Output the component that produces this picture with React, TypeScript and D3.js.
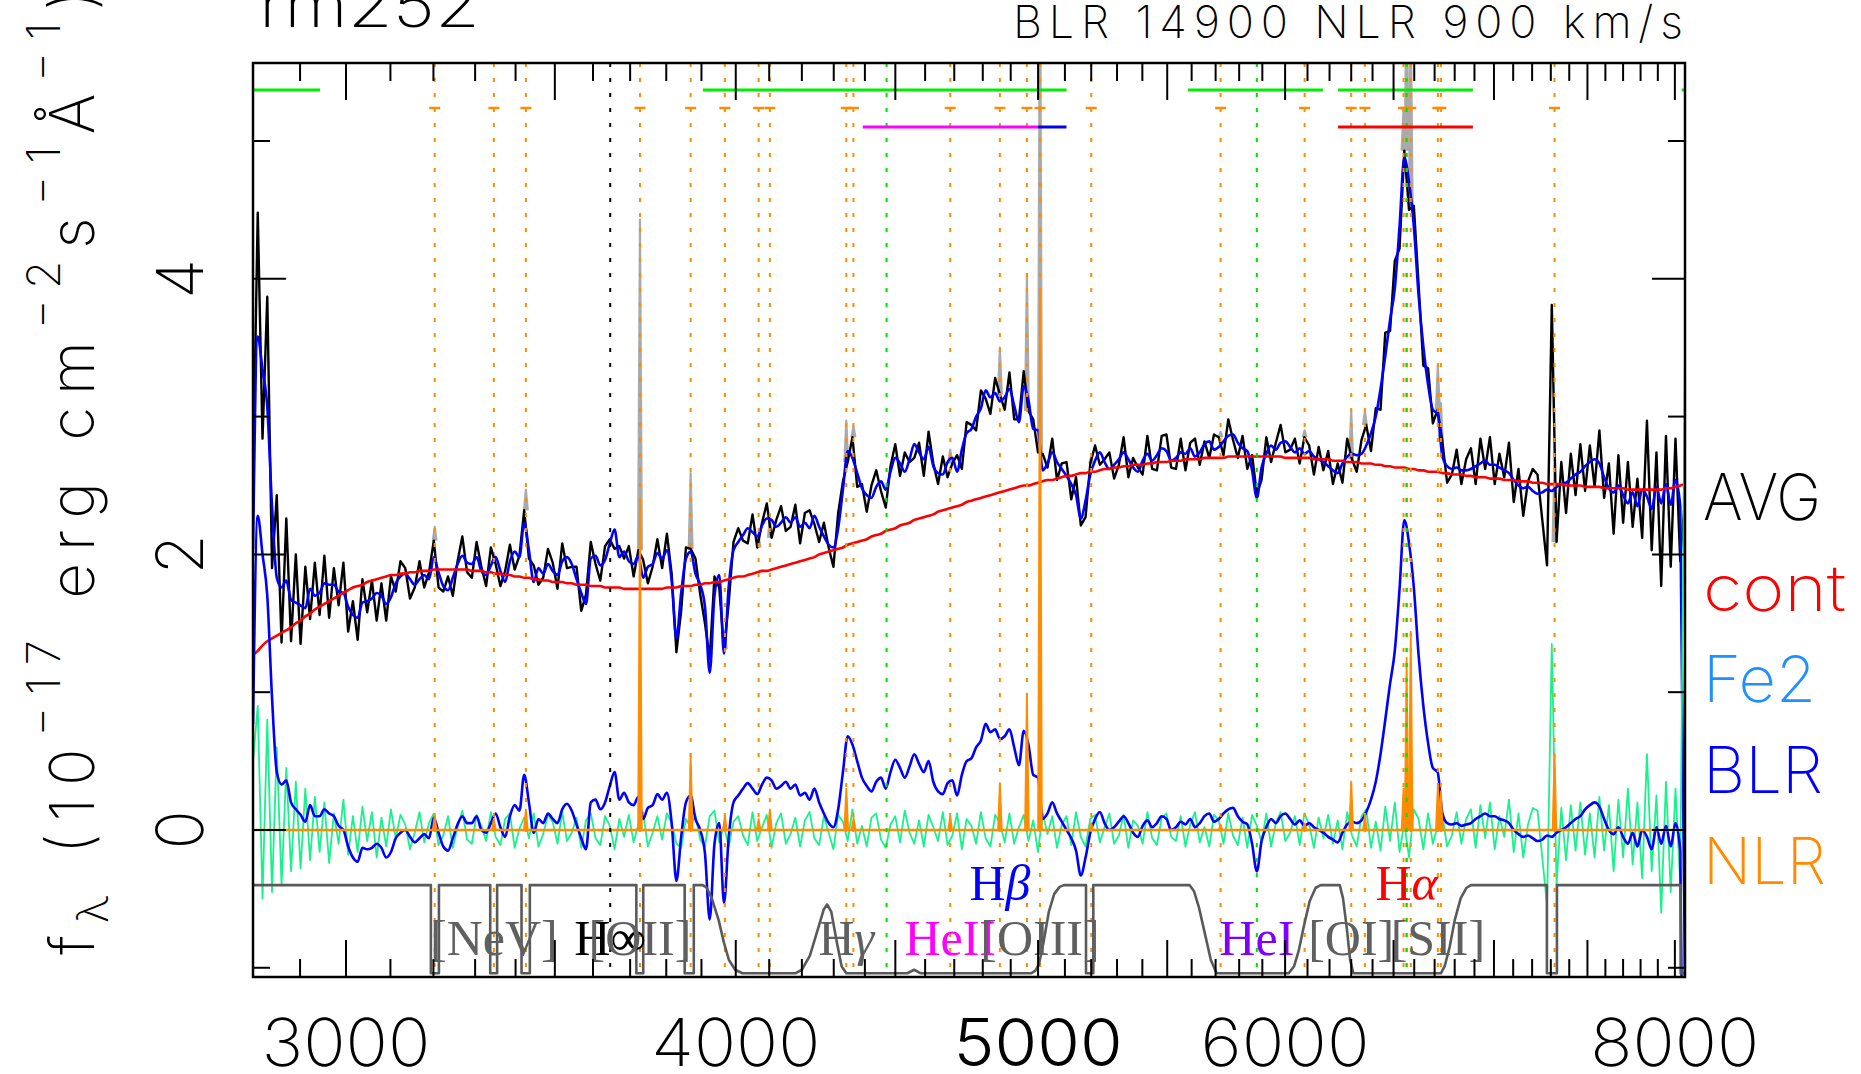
import React from 'react';
import * as d3 from 'd3';

const W = 1861;
const H = 1074;
const left = 253;
const right = 1685;
const top = 63;
const bottom = 977;

// spectrum pixel grid (log-uniform)
const lamStart = 2801;
const lamEnd = 8060;
const nPix = 302;

// continuum model (red)
const cont = [
  1.27, 1.30, 1.34, 1.37, 1.39, 1.41, 1.43, 1.45, 1.47, 1.50,
  1.52, 1.55, 1.57, 1.60, 1.62, 1.64, 1.66, 1.68, 1.70, 1.72,
  1.74, 1.76, 1.77, 1.78, 1.80, 1.81, 1.82, 1.83, 1.84, 1.85,
  1.85, 1.86, 1.86, 1.87, 1.87, 1.88, 1.88, 1.88, 1.89, 1.89,
  1.89, 1.89, 1.89, 1.89, 1.89, 1.89, 1.88, 1.88, 1.88, 1.87,
  1.87, 1.86, 1.86, 1.85, 1.85, 1.84, 1.84, 1.83, 1.83, 1.82,
  1.82, 1.81, 1.81, 1.80, 1.80, 1.80, 1.79, 1.79, 1.78, 1.78,
  1.78, 1.77, 1.77, 1.77, 1.76, 1.76, 1.76, 1.76, 1.75, 1.75,
  1.75, 1.75, 1.75, 1.75, 1.75, 1.75, 1.75, 1.76, 1.76, 1.76,
  1.77, 1.77, 1.77, 1.78, 1.78, 1.79, 1.79, 1.80, 1.80, 1.81,
  1.82, 1.83, 1.84, 1.84, 1.85, 1.86, 1.87, 1.88, 1.88, 1.89,
  1.90, 1.91, 1.92, 1.93, 1.94, 1.95, 1.96, 1.97, 1.98, 2.00,
  2.01, 2.02, 2.03, 2.04, 2.05, 2.07, 2.08, 2.09, 2.10, 2.11,
  2.13, 2.14, 2.15, 2.17, 2.18, 2.19, 2.21, 2.22, 2.23, 2.25,
  2.26, 2.27, 2.28, 2.29, 2.31, 2.32, 2.33, 2.34, 2.35, 2.36,
  2.38, 2.39, 2.40, 2.41, 2.42, 2.43, 2.44, 2.45, 2.46, 2.47,
  2.48, 2.49, 2.50, 2.50, 2.51, 2.52, 2.53, 2.54, 2.54, 2.55,
  2.56, 2.57, 2.57, 2.58, 2.59, 2.59, 2.60, 2.60, 2.61, 2.62,
  2.62, 2.63, 2.63, 2.64, 2.64, 2.65, 2.65, 2.65, 2.66, 2.66,
  2.67, 2.67, 2.67, 2.68, 2.68, 2.68, 2.69, 2.69, 2.69, 2.69,
  2.70, 2.70, 2.70, 2.70, 2.70, 2.71, 2.71, 2.71, 2.71, 2.71,
  2.71, 2.71, 2.71, 2.71, 2.71, 2.71, 2.71, 2.70, 2.70, 2.70,
  2.70, 2.70, 2.70, 2.69, 2.69, 2.69, 2.69, 2.68, 2.68, 2.68,
  2.67, 2.67, 2.67, 2.66, 2.66, 2.66, 2.65, 2.65, 2.64, 2.64,
  2.63, 2.63, 2.63, 2.62, 2.62, 2.61, 2.61, 2.60, 2.60, 2.60,
  2.59, 2.59, 2.58, 2.58, 2.58, 2.57, 2.57, 2.56, 2.56, 2.56,
  2.55, 2.55, 2.55, 2.54, 2.54, 2.54, 2.53, 2.53, 2.53, 2.52,
  2.52, 2.52, 2.51, 2.51, 2.51, 2.51, 2.50, 2.50, 2.50, 2.50,
  2.49, 2.49, 2.49, 2.49, 2.48, 2.48, 2.48, 2.48, 2.48, 2.47,
  2.47, 2.47, 2.47, 2.47, 2.47, 2.47, 2.47, 2.48, 2.48, 2.49,
  2.50, 2.51,
];

// broad-line component (lower blue)
const blr = [
  0.77, 2.28, 2.0, 1.7, 0.96, 0.42, 0.33, 0.36, 0.2, 0.15,
  0.11, 0.06, 0.18, 0.1, 0.1, 0.15, 0.12, 0.1, 0.03, 0.0,
  -0.12, -0.2, -0.23, -0.13, -0.14, -0.13, -0.1, -0.13, -0.2, -0.16,
  -0.06, -0.02, 0.0, -0.05, -0.09, -0.06, -0.03, -0.06, 0.09, -0.02,
  -0.12, -0.15, -0.06, 0.04, 0.1, 0.05, 0.05, 0.1, 0.0, -0.02,
  0.05, 0.12, 0.02, -0.05, 0.1, 0.18, 0.14, 0.4, 0.2, -0.02,
  0.08, 0.05, 0.12, 0.08, 0.05, 0.15, 0.19, 0.14, 0.04, -0.06,
  -0.14, 0.2, 0.22, 0.15, 0.2, 0.32, 0.42, 0.22, 0.27, 0.2,
  0.18, 0.24, 0.08, 0.16, 0.18, 0.26, 0.22, 0.27, 0.05, -0.37,
  -0.05, 0.2, 0.25, 0.08, 0.0, -0.17, -0.65, -0.1, 0.05, -0.53,
  -0.05, 0.2, 0.25, 0.3, 0.34, 0.3, 0.26, 0.33, 0.38, 0.36,
  0.3, 0.32, 0.35, 0.3, 0.33, 0.25, 0.27, 0.22, 0.3, 0.2,
  0.12, 0.05, 0.02, 0.15, 0.42, 0.68, 0.62, 0.5, 0.38, 0.32,
  0.28, 0.35, 0.38, 0.3, 0.42, 0.51, 0.45, 0.38, 0.46, 0.55,
  0.48, 0.42, 0.5, 0.35, 0.28, 0.26, 0.34, 0.36, 0.25, 0.4,
  0.5, 0.52, 0.6, 0.65, 0.77, 0.71, 0.73, 0.66, 0.68, 0.73,
  0.6, 0.47, 0.72, 0.62, 0.4, 0.38, 0.08, 0.12, 0.2, 0.12,
  0.06, 0.0, -0.06, -0.15, -0.33, -0.2, -0.02, 0.08, 0.13, 0.05,
  0.0, 0.02, 0.06, 0.1, 0.05, -0.02, -0.05, 0.03, 0.07, 0.02,
  0.05, 0.1, 0.08, 0.0, 0.02, 0.06, 0.04, 0.08, 0.02, 0.05,
  0.1, 0.12, 0.06, 0.08, 0.12, 0.15, 0.16, 0.1, 0.06, 0.04,
  -0.1, -0.3, -0.08, 0.02, 0.08, 0.05, 0.1, 0.12, 0.08, 0.04,
  0.07, 0.03, 0.05, 0.02, 0.0, -0.02, -0.05, -0.07, -0.09, -0.02,
  0.04, 0.06, 0.05, 0.07, 0.13, 0.22, 0.35, 0.55, 0.8, 1.06,
  1.3, 1.75, 2.25, 2.08, 1.76, 1.27, 0.9, 0.63, 0.45, 0.42,
  0.12, 0.05, 0.04, 0.05, 0.03, 0.04, 0.05, 0.08, 0.1, 0.12,
  0.1, 0.1, 0.08, 0.07, 0.05, 0.0, -0.03, -0.05, -0.04, -0.06,
  -0.08, -0.07, -0.04, -0.05, -0.02, 0.0, 0.02, 0.05, 0.08, 0.1,
  0.15, 0.18, 0.2, 0.17, 0.08, 0.0, -0.03, 0.02, -0.05, -0.1,
  -0.02, -0.12, 0.0, -0.05, -0.14, 0.02, -0.1, 0.03, -0.12, 0.05,
  -0.15, -3.6,
];

// fit residual (green); AVG = cont + blr + resid
const resid = [
  0.5, 0.9, -0.5, 0.8, -0.45, 0.6, -0.4, 0.45, -0.3, 0.35,
  -0.28, 0.3, -0.22, 0.24, -0.16, 0.2, -0.24, 0.12, -0.1, 0.22,
  -0.18, 0.1, -0.16, 0.17, -0.08, 0.13, -0.2, 0.09, -0.12, 0.15,
  -0.06, 0.11, 0.04, -0.14, -0.02, 0.13, -0.09, 0.05, 0.12, -0.11,
  -0.04, 0.1, -0.13, 0.02, 0.14, -0.07, -0.1, 0.11, 0.03, -0.08,
  0.13, -0.05, -0.11, 0.08, 0.12, -0.13, 0.01, 0.09, -0.06, 0.12,
  -0.12, -0.03, 0.11, 0.06, -0.1, 0.13, -0.08, -0.02, 0.09, -0.13,
  0.07, 0.12, -0.06, -0.11, 0.1, 0.03, -0.14, 0.08, -0.05, 0.11,
  -0.09, 0.04, 0.13, -0.12, -0.02, 0.1, -0.07, 0.12, 0.05, -0.1,
  -0.13, 0.08, 0.02, 0.11, -0.07, -0.12, 0.1, 0.14, -0.09, 0.03,
  -0.12, 0.06, 0.1, -0.04, -0.11, 0.13, -0.08, 0.02, 0.11, -0.13,
  0.05, 0.12, -0.1, -0.03, 0.09, -0.12, 0.07, 0.13, -0.06, -0.11,
  0.1, -0.02, -0.14, 0.11, 0.06, -0.08, 0.15, -0.1, 0.03, -0.12,
  0.09, 0.12, -0.07, -0.13, 0.04, 0.1, -0.09, 0.14, -0.02, -0.1,
  0.07, -0.12, 0.11, 0.02, -0.08, 0.13, -0.11, -0.04, 0.12, -0.14,
  0.08, 0.03, -0.1, 0.13, -0.06, -0.12, 0.11, 0.05, -0.09, 0.12,
  -0.1, 0.02, 0.11, -0.08, 0.07, -0.16, 0.12, -0.03, 0.1, -0.13,
  0.04, 0.1, -0.11, 0.13, -0.05, -0.12, 0.08, 0.11, -0.09, 0.02,
  0.12, -0.1, -0.04, 0.11, -0.13, 0.07, 0.03, -0.1, 0.13, -0.06,
  -0.11, 0.09, 0.12, -0.05, -0.08, 0.1, -0.12, 0.04, 0.13, -0.09,
  0.02, -0.12, 0.11, 0.07, -0.1, 0.12, -0.04, -0.11, 0.09, -0.13,
  0.11, 0.03, -0.09, 0.12, -0.12, 0.05, 0.13, -0.08, -0.02, 0.1,
  -0.11, 0.12, 0.04, -0.13, 0.09, -0.06, 0.11, -0.1, 0.07, -0.14,
  0.13, -0.04, -0.12, 0.1, 0.15, -0.13, 0.06, -0.15, 0.17, -0.08,
  0.2, -0.16, 0.05, -0.2, 0.15, 0.08, -0.14, 0.12, -0.1, 0.03,
  0.11, -0.12, -0.04, 0.13, -0.1, 0.08, 0.15, -0.13, 0.18, -0.06,
  0.2, -0.14, 0.1, -0.05, 0.22, -0.16, 0.12, -0.2, 0.04, 0.16,
  0.14, -0.2, -0.55, 1.35, -0.4, 0.16, -0.22, 0.18, -0.15, 0.2,
  -0.18, 0.12, -0.2, 0.24, -0.15, 0.18, -0.3, 0.22, -0.2, 0.3,
  -0.25, 0.2, -0.35, 0.55, -0.3, 0.25, -0.6, 0.35, -0.45, 0.3,
  -0.4, 3.5,
];

// narrow lines (NLR)
const nlrWave = [3203, 3346, 3426, 3727, 3869, 3968, 4068, 4102, 4340, 4363, 4686, 4861, 4959, 5007, 5200, 5721, 6087, 6300, 6364, 6548, 6563, 6583, 6716, 6731, 7320];
const nlrPeak = [0.1, 0.08, 0.15, 2.4, 0.55, 0.1, 0.08, 0.15, 0.3, 0.08, 0.1, 0.34, 0.99, 3.9, 0.05, 0.04, 0.05, 0.35, 0.1, 0.3, 1.25, 1.44, 0.32, 0.28, 0.55];
const heLines = [4471, 5876, 6563];
const balmerLimit = 3646;

// fitting windows along the top
const winStart = [2801, 3904, 5585, 6239, 8040];
const winEnd = [2943, 5106, 6170, 6892, 8060];
const bandStart = [4393, 5000, 6239];
const bandEnd = [5000, 5106, 6892];
const bandColor = ['#ff00ff', '#0000ff', '#ff0000'];

// mask weight curve at bottom (1 = continuum window)
const maskWave = [2801, 3194, 3194, 3213, 3213, 3337, 3337, 3354, 3354, 3415, 3415, 3436, 3436, 3717, 3717, 3736, 3736, 3852, 3852, 3878, 3878, 3904, 3915, 3930, 3950, 3965, 3980, 3998, 4020, 4180, 4200, 4225, 4250, 4268, 4279, 4292, 4310, 4325, 4340, 4540, 4563, 4585, 4975, 4990, 5003, 5020, 5040, 5060, 5080, 5096, 5180, 5180, 5208, 5208, 5591, 5610, 5630, 5655, 5680, 5704, 6016, 6040, 6060, 6085, 6110, 6137, 6160, 6247, 6262, 6280, 6295, 6310, 6731, 6750, 6775, 6800, 6830, 6860, 6882, 7279, 7279, 7333, 7333, 8034, 8034, 8060];
const maskLevel = [1, 1, 0, 0, 1, 1, 0, 0, 1, 1, 0, 0, 1, 1, 0, 0, 1, 1, 0, 0, 1, 1, 0.97, 0.85, 0.6, 0.35, 0.15, 0.04, 0, 0, 0.04, 0.2, 0.5, 0.72, 0.78, 0.7, 0.35, 0.08, 0, 0, 0.04, 0, 0, 0.03, 0.1, 0.35, 0.7, 0.9, 0.98, 1, 1, 0, 0, 1, 1, 0.93, 0.75, 0.45, 0.15, 0, 0, 0.08, 0.25, 0.55, 0.82, 0.97, 1, 1, 0.85, 0.5, 0.15, 0, 0, 0.08, 0.3, 0.6, 0.85, 0.97, 1, 1, 0, 0, 1, 1, 0, 0];

const labelText = ['[NeV]', 'H∞', '[OII]', 'Hγ', 'HeII', '[OIII]', 'Hβ', 'HeI', '[OI]', '[SII]', 'Hα'];
const labelWave = [3346, 3646, 3727, 4340, 4686, 5007, 4861, 5876, 6300, 6716, 6563];
const labelColor = ['#606060', '#000000', '#606060', '#606060', '#ff00ff', '#606060', '#0000ff', '#8000ff', '#606060', '#606060', '#ff0000'];
const labelRaised = [0, 0, 0, 0, 0, 0, 1, 0, 0, 0, 1];

const xTickLabels = [3000, 4000, 5000, 6000, 8000];
const yTickLabels = [0, 2, 4];

const legendNames = ['AVG', 'cont', 'Fe2', 'BLR', 'NLR'];
const legendColors = ['#000000', '#ff0000', '#1e90ff', '#0000ff', '#ff8c00'];
const legendWidths = [118, 143, 113, 120, 123];

const sans = 'Inter, "DejaVu Sans", sans-serif';
const serif = '"Liberation Serif", "DejaVu Serif", serif';
const ORANGE = '#ff8c00';
const GREEN = '#19f28c';

const x = d3.scaleLog().domain([lamStart, lamEnd]).range([left, right]);
const y = d3.scaleLinear().domain([-1.067, 5.566]).range([bottom, top]);

const dLn = Math.log(lamEnd / lamStart) / (nPix - 1);
const wave = d3.range(nPix).map(i => lamStart * Math.exp(i * dLn));
const model = cont.map((c, i) => c + blr[i]);
const avg = model.map((m, i) => m + resid[i]);

type P = [number, number];
const straight = d3.line<P>().x(d => x(d[0])).y(d => y(d[1]));
const smooth = d3.line<P>().x(d => x(d[0])).y(d => y(d[1])).curve(d3.curveMonotoneX);

const pts = (vals: number[]): P[] => wave.map((w, i) => [w, vals[i]] as P);
const half = 0.0014;

function spike(w: number, base: number, peak: number): string {
  return straight([[w * (1 - half), base], [w, base + peak], [w * (1 + half), base]]) as string;
}

function Label({ t }: { t: string }) {
  return (
    <>
      {Array.from(t).map((ch, k) => (
        <tspan key={k} fontStyle={/[αβγ]/.test(ch) ? 'italic' : 'normal'}>{ch}</tspan>
      ))}
    </>
  );
}

export default function App() {
  const bisect = d3.bisector((d: number) => d).center;
  const xTicks = d3.range(2900, 8001, 100);
  const yTicks = d3.range(-1, 6);
  const maskPts: P[] = maskWave.map((w, i) => [w, -1.04 + 0.64 * maskLevel[i]] as P);

  return (
    <svg width={W} height={H} style={{ position: 'absolute', left: 0, top: 0, background: '#fff' }}>
      <defs>
        <clipPath id="plotClip">
          <rect x={left} y={top} width={right - left} height={bottom - top} />
        </clipPath>
      </defs>

      <g clipPath="url(#plotClip)" fill="none" strokeLinejoin="round">
        {nlrWave.map((w, k) => {
          const base = avg[bisect(wave, w)];
          return <path key={'g' + k} d={spike(w, base, nlrPeak[k])} stroke="#aaaaaa" fill="#aaaaaa" strokeWidth={2.2} />;
        })}
        <path d={straight(pts(avg)) as string} stroke="#000" strokeWidth={2.4} />
        <path d={smooth(pts(model)) as string} stroke="#0000ff" strokeWidth={2.6} />
        <path d={smooth(pts(cont)) as string} stroke="#ff0000" strokeWidth={2.6} />
        <path d={straight(pts(resid)) as string} stroke={GREEN} strokeWidth={1.8} />
        <path d={smooth(pts(blr)) as string} stroke="#0000ff" strokeWidth={2.6} />
        {nlrWave.map((w, k) => (
          <path key={'n' + k} d={spike(w, 0, nlrPeak[k])} stroke={ORANGE} fill={ORANGE} strokeWidth={1.8} />
        ))}
        <line x1={left} x2={right} y1={y(0)} y2={y(0)} stroke={ORANGE} strokeWidth={2.6} />

        {nlrWave.map((w, k) => (
          <g key={'o' + k}>
            <line x1={x(w)} x2={x(w)} y1={top} y2={bottom} stroke={ORANGE} strokeWidth={2} strokeDasharray="4 11" />
            <line x1={x(w) - 5.5} x2={x(w) + 5.5} y1={108} y2={108} stroke={ORANGE} strokeWidth={2.5} />
          </g>
        ))}
        {heLines.map((w, k) => (
          <line key={'h' + k} x1={x(w)} x2={x(w)} y1={top} y2={bottom} stroke="#00e000" strokeWidth={2} strokeDasharray="4 11" />
        ))}
        <line x1={x(balmerLimit)} x2={x(balmerLimit)} y1={top} y2={bottom} stroke="#000" strokeWidth={2} strokeDasharray="4 11" />

        {winStart.map((w, k) => (
          <line key={'w' + k} x1={x(w)} x2={x(winEnd[k])} y1={90} y2={90} stroke="#00ee00" strokeWidth={3} />
        ))}
        {bandStart.map((w, k) => (
          <line key={'b' + k} x1={x(w)} x2={x(bandEnd[k])} y1={127} y2={127} stroke={bandColor[k]} strokeWidth={3} />
        ))}

        <path d={straight(maskPts) as string} stroke="#5a5a5a" strokeWidth={2.6} />
      </g>

      {labelText.map((t, k) => (
        <text key={'l' + k} x={x(labelWave[k])} y={labelRaised[k] ? 900 : 955} textAnchor="middle"
          fontFamily={serif} fontSize={50} fill={labelColor[k]}>
          <Label t={t} />
        </text>
      ))}

      <rect x={left} y={top} width={right - left} height={bottom - top} fill="none" stroke="#000" strokeWidth={2.5} />
      {xTicks.map(t => {
        const len = t % 500 === 0 ? 37 : 18;
        return (
          <g key={'xt' + t} stroke="#000" strokeWidth={2}>
            <line x1={x(t)} x2={x(t)} y1={bottom} y2={bottom - len} />
            <line x1={x(t)} x2={x(t)} y1={top} y2={top + len} />
          </g>
        );
      })}
      {yTicks.map(t => {
        const len = t % 2 === 0 ? 33 : 17;
        return (
          <g key={'yt' + t} stroke="#000" strokeWidth={2}>
            <line x1={left} x2={left + len} y1={y(t)} y2={y(t)} />
            <line x1={right} x2={right - len} y1={y(t)} y2={y(t)} />
          </g>
        );
      })}

      {xTickLabels.map(t => (
        <text key={'xl' + t} x={x(t)} y={1066} textAnchor="middle" fontFamily={sans} fontSize={66}
          fontWeight={t === 5000 ? 300 : 200} textLength={169} lengthAdjust="spacingAndGlyphs">{t}</text>
      ))}
      {yTickLabels.map(t => (
        <text key={'yl' + t} transform={`translate(203,${y(t)}) rotate(-90)`} textAnchor="middle"
          fontFamily={sans} fontSize={65} fontWeight={200}>{t}</text>
      ))}

      <text transform="translate(94,955) rotate(-90)" fontFamily={sans} fontSize={62} fontWeight={200}
        textLength={965} lengthAdjust="spacing">
        <tspan>f</tspan>
        <tspan fontSize={44} dy={14}>λ</tspan>
        <tspan dy={-14}> (10</tspan>
        <tspan fontSize={46} dy={-34}>−17</tspan>
        <tspan dy={34}> erg cm</tspan>
        <tspan fontSize={46} dy={-34}>−2</tspan>
        <tspan dy={34}>s</tspan>
        <tspan fontSize={46} dy={-34}>−1</tspan>
        <tspan dy={34}>Å</tspan>
        <tspan fontSize={46} dy={-34}>−1</tspan>
        <tspan dy={34}>)</tspan>
      </text>

      <text x={259} y={27} fontFamily={sans} fontSize={62} fontWeight={200} textLength={221} lengthAdjust="spacingAndGlyphs">rm252</text>
      <text x={1683} y={38} textAnchor="end" fontFamily={sans} fontSize={45} fontWeight={200} textLength={670} lengthAdjust="spacing">BLR 14900 NLR 900 km/s</text>

      {legendNames.map((n, k) => (
        <text key={'lg' + k} x={1703} y={520 + k * 91} fontFamily={sans} fontSize={64} fontWeight={200}
          fill={legendColors[k]} textLength={legendWidths[k]} lengthAdjust="spacingAndGlyphs">{n}</text>
      ))}
    </svg>
  );
}
